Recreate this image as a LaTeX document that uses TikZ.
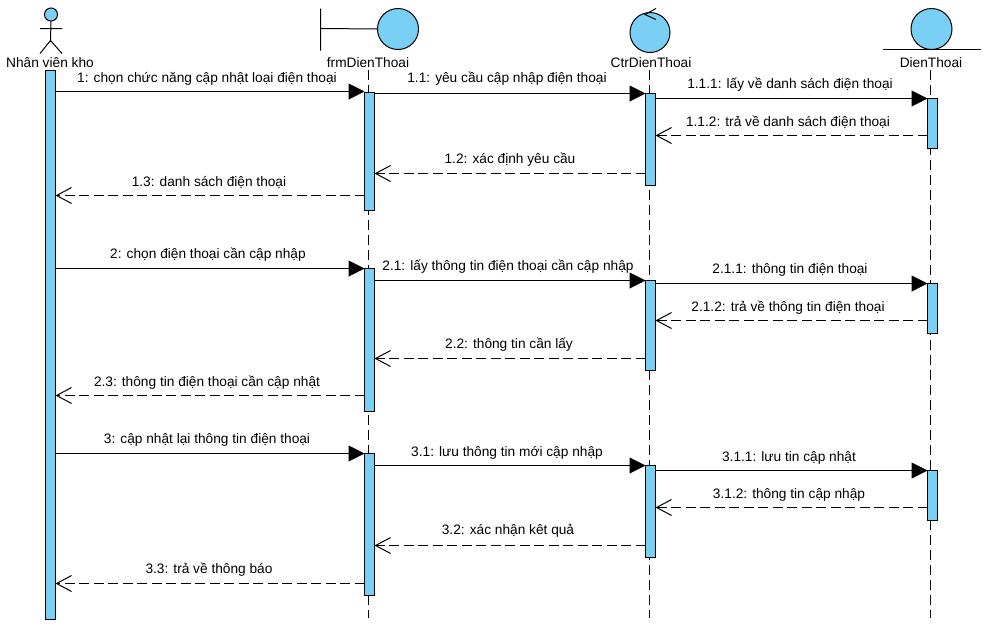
\documentclass[tikz,border=0pt]{standalone}
\usepackage{fontspec}
\setmainfont{Liberation Sans}
\usetikzlibrary{arrows.meta}
\definecolor{barblue}{HTML}{7ACFF5}
\begin{document}
\begin{tikzpicture}[x=1pt, y=-1pt,
        bar/.style = {draw, fill=barblue, line width=1pt, minimum width=10pt, inner sep=0pt, outer sep=0pt},
        headcircle/.style = {draw, circle, fill=barblue, line width=1pt, inner sep=0pt, outer sep=0pt},
        lifename/.style = {font=\fontsize{13.7}{15}\selectfont, inner sep=0pt, text height=10pt, text depth=3pt, yshift=-1pt},
        msg/.style = {font=\fontsize{13.7}{15}\selectfont, inner sep=0pt, text height=10pt, text depth=3pt, yshift=-1pt},
        stick/.style = {line width=1pt},
        life/.style = {line width=1pt, dash pattern=on 10pt off 5pt},
        call/.style = {line width=1pt, -{Triangle[length=16pt,width=16pt]}},
        back/.style = {line width=1pt, dash pattern=on 10pt off 4.5pt, -{Straight Barb[length=15pt,width=16pt,line width=1pt]}}]
    \useasboundingbox (0,-0.5) rectangle (994,632.5);
    % headers
    \node[headcircle, minimum size=13pt](actorhead) at (51,14){};
    \draw[stick] (actorhead.south) -- (50.5,40) coordinate(hip);
    \draw[stick] (40,28) -- (62,28) (40,53) -- (hip) -- (62,53);
    \node[lifename](nvk) at (50,62){Nhân viên kho};
    \node[headcircle, minimum size=41pt](frmcircle) at (398,28.5){};
    \draw[stick] (320.5,8) -- (320.5,50) (320.5,28) -- (frmcircle.west);
    \node[lifename](frm) at (368,62){frmDienThoai};
    \node[headcircle, minimum size=40pt](ctrcircle) at (650,32){};
    \draw[stick] (656,8) -- (645,14) -- (656,19);
    \node[lifename](ctr) at (651,62){CtrDienThoai};
    \node[headcircle, minimum size=41pt](dtcircle) at (931.5,28.5){};
    \draw[stick] (883,49) -- (981,49);
    \node[lifename](dt) at (931,62){DienThoai};
    % lifelines
    \coordinate(frmend) at (368.5,617);
    \coordinate(ctrend) at (649.5,617);
    \coordinate(dtend) at (930.5,617);
    \draw[life] (frmend |- frm.south) -- (frmend);
    \draw[life] (ctrend |- ctr.south) -- (ctrend);
    \draw[life] (dtend |- dt.south) -- (dtend);
    % activation bars
    \node[bar, minimum height=549pt](a) at (50.5,344.5){};
    \node[bar, minimum height=118pt](f1) at (369.5,151){};
    \node[bar, minimum height=143pt](f2) at (369.5,339.5){};
    \node[bar, minimum height=142pt](f3) at (369.5,524){};
    \node[bar, minimum height=92pt](c1) at (650.5,139){};
    \node[bar, minimum height=90pt](c2) at (650.5,325){};
    \node[bar, minimum height=92pt](c3) at (650.5,511){};
    \node[bar, minimum height=50pt](d1) at (932.5,123){};
    \node[bar, minimum height=50pt](d2) at (932.5,308){};
    \node[bar, minimum height=50pt](d3) at (932.5,495){};
    % first group
    \draw[call] (a.east |- 0,91) -- (f1.west |- 0,91);
    \node[msg](m1) at (207,77){1: chọn chức năng cập nhật loại điện thoại};
    \draw[call] (f1.east |- 0,93) -- (c1.west |- 0,93);
    \node[msg](m11) at (507,77){1.1: yêu cầu cập nhập điện thoại};
    \draw[call] (c1.east |- 0,98) -- (d1.west |- 0,98);
    \node[msg](m111) at (790,83){1.1.1: lấy về danh sách điện thoại};
    \draw[back] (d1.west |- 0,135) -- (c1.east |- 0,135);
    \node[msg](m112) at (788,121){1.1.2: trả về danh sách điện thoại};
    \draw[back] (c1.west |- 0,173) -- (f1.east |- 0,173);
    \node[msg](m12) at (510,158){1.2: xác định yêu cầu};
    \draw[back] (f1.west |- 0,195) -- (a.east |- 0,195);
    \node[msg](m13) at (209,181){1.3: danh sách điện thoại};
    % second group
    \draw[call] (a.east |- 0,268) -- (f2.west |- 0,268);
    \node[msg](m2) at (208,253){2: chọn điện thoại cần cập nhập};
    \draw[call] (f2.east |- 0,280) -- (c2.west |- 0,280);
    \node[msg](m21) at (508,265){2.1: lấy thông tin điện thoại cần cập nhập};
    \draw[call] (c2.east |- 0,283) -- (d2.west |- 0,283);
    \node[msg](m211) at (790,268){2.1.1: thông tin điện thoại};
    \draw[back] (d2.west |- 0,320) -- (c2.east |- 0,320);
    \node[msg](m212) at (788,306){2.1.2: trả về thông tin điện thoại};
    \draw[back] (c2.west |- 0,358) -- (f2.east |- 0,358);
    \node[msg](m22) at (509,343){2.2: thông tin cần lấy};
    \draw[back] (f2.west |- 0,395) -- (a.east |- 0,395);
    \node[msg](m23) at (207,381){2.3: thông tin điện thoại cần cập nhật};
    % third group
    \draw[call] (a.east |- 0,453) -- (f3.west |- 0,453);
    \node[msg](m3) at (207,438){3: cập nhật lại thông tin điện thoại};
    \draw[call] (f3.east |- 0,465) -- (c3.west |- 0,465);
    \node[msg](m31) at (507,451){3.1: lưu thông tin mới cập nhập};
    \draw[call] (c3.east |- 0,470) -- (d3.west |- 0,470);
    \node[msg](m311) at (789,456){3.1.1: lưu tin cập nhật};
    \draw[back] (d3.west |- 0,507) -- (c3.east |- 0,507);
    \node[msg](m312) at (789,493){3.1.2: thông tin cập nhập};
    \draw[back] (c3.west |- 0,545) -- (f3.east |- 0,545);
    \node[msg](m32) at (508,529){3.2: xác nhận kêt quả};
    \draw[back] (f3.west |- 0,583) -- (a.east |- 0,583);
    \node[msg](m33) at (209,568){3.3: trả về thông báo};
\end{tikzpicture}
\end{document}
